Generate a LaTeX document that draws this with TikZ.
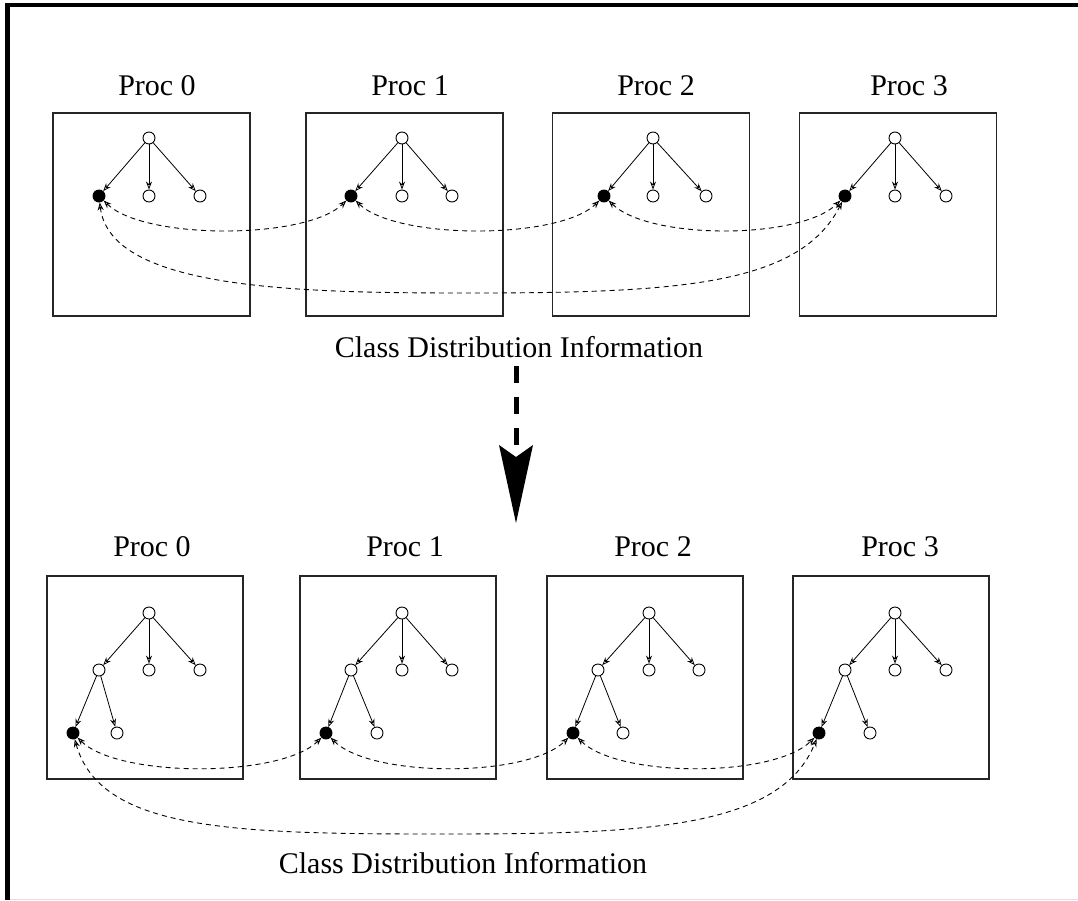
\documentclass[tikz,border=0pt]{standalone}
\usepackage{fontspec}
\setmainfont{Liberation Serif}
\usetikzlibrary{arrows.meta}

\tikzset{
  procbox/.style={draw=black!85, line width=1.5pt, minimum width=197pt, minimum height=203pt, inner sep=0pt},
  proclabel/.style={anchor=base, inner sep=0pt, font=\fontsize{30}{36}\selectfont},
  infolabel/.style={anchor=base, inner sep=0pt, font=\fontsize{30}{36}\selectfont},
  vertex/.style={circle, draw, line width=0.9pt, minimum size=12pt, inner sep=0pt},
  marked/.style={vertex, fill=black},
  treeedge/.style={line width=0.8pt, -{Stealth[open, length=8pt, width=6pt]}},
  link/.style={line width=0.9pt, dash pattern=on 5pt off 4pt,
    {Stealth[open, length=8pt, width=6pt]}-{Stealth[open, length=8pt, width=6pt]}},
}

\begin{document}
\begin{tikzpicture}[x=1pt, y=-1pt]
\useasboundingbox (0,0) rectangle (1078,900);

% outer frame (top and left edges)
\draw[line width=4pt] (5,5.3) -- (1078,5.3);
\draw[line width=5pt] (7.5,3) -- (7.5,900);
\draw[black!12, line width=1pt] (10,899.5) -- (1078,899.5);

% ---------- upper stage: one-level class trees ----------
\foreach \i/\bx/\fx/\mx/\rx/\lx in {0/151.5/99/149/200/157, 1/404.5/351/402/452/410,
                                    2/651/604/653/706/656, 3/898/845/895/946/909}{
  \node[procbox] (tb\i) at (\bx,214.5) {};
  \node[proclabel] (tl\i) at (\lx,95) {Proc \i};
  \node[vertex] (tr\i) at (\mx,138) {};
  \node[marked] (tf\i) at (\fx,196) {};
  \node[vertex] (tm\i) at (\mx,196) {};
  \node[vertex] (tq\i) at (\rx,196) {};
  \draw[treeedge] (tr\i) -- (tf\i);
  \draw[treeedge] (tr\i) -- (tm\i);
  \draw[treeedge] (tr\i) -- (tq\i);
}

\draw[link] (tf0) .. controls +(45,44) and +(-45,44) .. (tf1);
\draw[link] (tf1) .. controls +(45,44) and +(-45,44) .. (tf2);
\draw[link] (tf2) .. controls +(45,44) and +(-45,44) .. (tf3);
\coordinate (tlow) at (470,293);
\draw[link] (tf0) .. controls +(11,94) and +(-170,0) .. (tlow)
                  .. controls +(210,0) and +(-45,89) .. (tf3);

\node[infolabel] (tinfo) at (519,357) {Class Distribution Information};

% ---------- transition arrow ----------
\coordinate (flowtop) at (516,366);
\coordinate (flowneck) at (516,447);
\coordinate (flowtip) at (516,523);
\draw[line width=5pt, dash pattern=on 17pt off 14pt] (flowtop) -- (flowneck);
\fill (499,445) -- (flowtip |- 0,457) -- (533,445) -- (flowtip) -- cycle;

% ---------- lower stage: two-level class trees ----------
\foreach \i/\bx/\ax/\mx/\rx/\fx/\ox/\lx in {0/145/99/149/200/73/117/152, 1/398/351/402/452/326/377/405,
                                            2/645/598/649/699/573/623/653, 3/891/845/895/946/819/870/900}{
  \node[procbox, minimum width=196pt] (bb\i) at (\bx,677.5) {};
  \node[proclabel] (bl\i) at (\lx,556) {Proc \i};
  \node[vertex] (br\i) at (\mx,613) {};
  \node[vertex] (ba\i) at (\ax,670) {};
  \node[vertex] (bm\i) at (\mx,670) {};
  \node[vertex] (bq\i) at (\rx,670) {};
  \node[marked] (bf\i) at (\fx,733) {};
  \node[vertex] (bo\i) at (\ox,733) {};
  \draw[treeedge] (br\i) -- (ba\i);
  \draw[treeedge] (br\i) -- (bm\i);
  \draw[treeedge] (br\i) -- (bq\i);
  \draw[treeedge] (ba\i) -- (bf\i);
  \draw[treeedge] (ba\i) -- (bo\i);
}

\draw[link] (bf0) .. controls +(45,45) and +(-45,45) .. (bf1);
\draw[link] (bf1) .. controls +(45,45) and +(-45,45) .. (bf2);
\draw[link] (bf2) .. controls +(45,45) and +(-45,45) .. (bf3);
\coordinate (blow) at (440,834);
\draw[link] (bf0) .. controls +(27,97) and +(-210,0) .. (blow)
                  .. controls +(200,0) and +(-39,97) .. (bf3);

\node[infolabel] (binfo) at (463,873) {Class Distribution Information};
\end{tikzpicture}
\end{document}
